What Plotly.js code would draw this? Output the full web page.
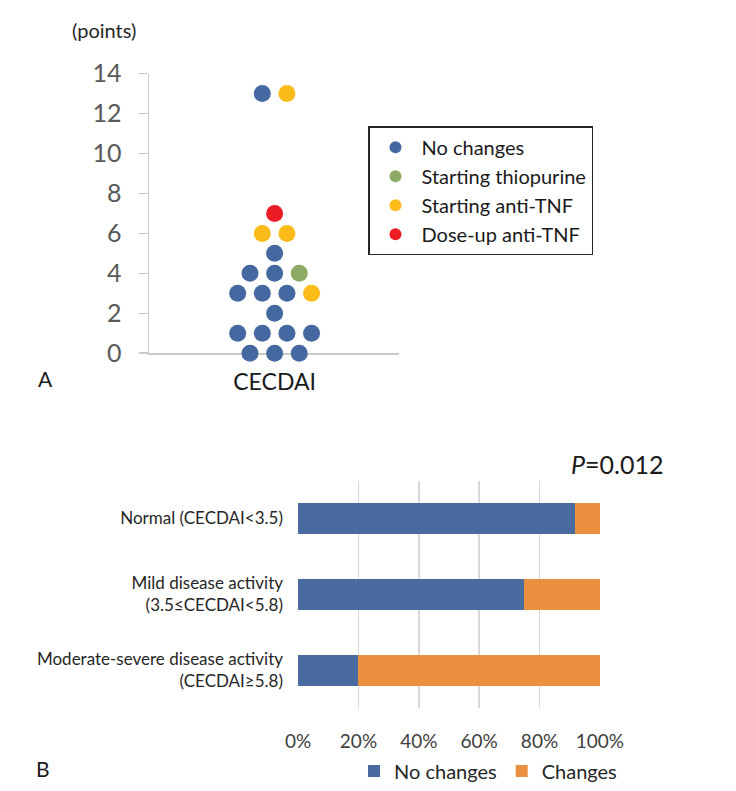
<!DOCTYPE html>
<html>
<head>
<meta charset="utf-8">
<script src="https://cdn.plot.ly/plotly-3.0.1.min.js"></script>
<style>html,body{margin:0;padding:0;background:#fff;}#chart{width:736px;height:791px;}</style>
</head>
<body>
<div id="chart"></div>
<script>
// ---- Panel A: CECDAI scores (dot plot), slot = horizontal dot column ----
const noChangeSlots = [-1, 0, -2, 0, -3, -1, 1, 0, -3, -1, 1, 3, -2, 0, 2];
const noChangeScores = [13, 5, 4, 4, 3, 3, 3, 2, 1, 1, 1, 1, 0, 0, 0];
const thiopurineSlots = [2];
const thiopurineScores = [4];
const antiTnfSlots = [1, -1, 1, 3];
const antiTnfScores = [13, 6, 6, 3];
const doseUpSlots = [0];
const doseUpScores = [7];
const dotSeriesNames = ['No changes', 'Starting thiopurine', 'Starting anti-TNF', 'Dose-up anti-TNF'];
const yTicksA = [0, 2, 4, 6, 8, 10, 12, 14];

// ---- Panel B: treatment change by disease activity (%) ----
const activityGroups = ['Normal (CECDAI<3.5)', 'Mild disease activity<br>(3.5≤CECDAI<5.8)', 'Moderate-severe disease activity<br>(CECDAI≥5.8)'];
const pctNoChanges = [91.7, 75, 20];
const pctChanges = [8.3, 25, 80];
const barSeriesNames = ['No changes', 'Changes'];
const xTicksB = [0, 20, 40, 60, 80, 100];
const xTickTextB = ['0%', '20%', '40%', '60%', '80%', '100%'];

const FONT = "Lato, 'Liberation Sans', Arial, sans-serif";
const W = 736, H = 791;
const px = v => v / W;
const py = v => 1 - v / H;

const dotColors = ['#44689f', '#8caa63', '#fbbc1a', '#ec1c24'];
const dotData = [
  [noChangeSlots, noChangeScores],
  [thiopurineSlots, thiopurineScores],
  [antiTnfSlots, antiTnfScores],
  [doseUpSlots, doseUpScores]
];

const traces = dotData.map((d, i) => ({
  type: 'scatter', mode: 'markers',
  x: d[0], y: d[1],
  name: dotSeriesNames[i],
  xaxis: 'x', yaxis: 'y',
  legend: 'legend',
  cliponaxis: false,
  marker: {size: 17, color: dotColors[i], line: {width: 0}},
  hoverinfo: 'y+name'
}));

traces.push({
  type: 'bar', orientation: 'h',
  y: activityGroups, x: pctNoChanges,
  name: barSeriesNames[0],
  xaxis: 'x2', yaxis: 'y2', legend: 'legend2',
  marker: {color: '#4a6b9f', line: {width: 0}}
});
traces.push({
  type: 'bar', orientation: 'h',
  y: activityGroups, x: pctChanges,
  name: barSeriesNames[1],
  xaxis: 'x2', yaxis: 'y2', legend: 'legend2',
  marker: {color: '#eb8f40', line: {width: 0}}
});

const layout = {
  width: W, height: H,
  margin: {l: 0, r: 0, t: 0, b: 0},
  paper_bgcolor: '#ffffff', plot_bgcolor: '#ffffff',
  font: {family: FONT, color: '#262626'},
  barmode: 'stack', bargap: 0.6,
  showlegend: true,
  xaxis: {
    domain: [px(149), px(399)], anchor: 'y',
    range: [-10.2, 10.1],
    tickvals: [0], ticktext: ['CECDAI'],
    ticks: '', showgrid: false, zeroline: false,
    showline: true, linecolor: '#c9c9c9', linewidth: 1.5,
    layer: 'below traces',
    tickfont: {family: FONT, size: 23, color: '#1a1a1a'},
    ticklabelstandoff: 8,
    fixedrange: true
  },
  yaxis: {
    domain: [py(355), py(74)], anchor: 'x',
    range: [0, 14], tickvals: yTicksA,
    ticks: 'outside', ticklen: 9, tickcolor: '#c9c9c9', tickwidth: 1.5,
    showline: true, linecolor: '#c9c9c9', linewidth: 1.5,
    showgrid: false, zeroline: false,
    layer: 'below traces',
    tickfont: {family: FONT, size: 25, color: '#595959'},
    ticklabelstandoff: 12,
    fixedrange: true
  },
  xaxis2: {
    domain: [px(298), px(600)], anchor: 'y2',
    range: [-0.05, 100.05], tickvals: xTicksB, ticktext: xTickTextB,
    showgrid: true, gridcolor: '#d9d9d9', gridwidth: 1.5,
    showline: false, zeroline: false, ticks: '',
    tickfont: {family: FONT, size: 19, color: '#404040'},
    ticklabelstandoff: 20,
    fixedrange: true
  },
  yaxis2: {
    domain: [py(712), py(483)], anchor: 'x2',
    type: 'category', autorange: 'reversed',
    showgrid: false, showline: false, zeroline: false, ticks: '',
    tickfont: {family: FONT, size: 17, color: '#262626'},
    ticklabelstandoff: 14,
    fixedrange: true
  },
  legend: {
    x: px(368), y: py(127), xanchor: 'left', yanchor: 'top',
    bgcolor: '#ffffff', bordercolor: '#262626', borderwidth: 1.5,
    font: {family: FONT, size: 20, color: '#1a1a1a'},
    itemsizing: 'constant', itemwidth: 42, tracegroupgap: 0
  },
  legend2: {
    orientation: 'h',
    x: px(488), y: py(775), xanchor: 'center', yanchor: 'middle',
    bgcolor: 'rgba(0,0,0,0)', borderwidth: 0,
    font: {family: FONT, size: 20, color: '#262626'},
    itemwidth: 30,
    traceorder: 'normal'
  },
  annotations: [
    {text: '(points)', xref: 'paper', yref: 'paper', x: px(104), y: py(30), xanchor: 'center', yanchor: 'middle', showarrow: false, font: {family: FONT, size: 20, color: '#262626'}},
    {text: 'A', xref: 'paper', yref: 'paper', x: px(45), y: py(380), xanchor: 'center', yanchor: 'middle', showarrow: false, font: {family: FONT, size: 21, color: '#1a1a1a'}},
    {text: 'B', xref: 'paper', yref: 'paper', x: px(43), y: py(772), xanchor: 'center', yanchor: 'middle', showarrow: false, font: {family: FONT, size: 21, color: '#1a1a1a'}},
    {text: '<i>P</i>=0.012', xref: 'paper', yref: 'paper', x: px(617), y: py(466), xanchor: 'center', yanchor: 'middle', showarrow: false, font: {family: FONT, size: 25, color: '#1a1a1a'}}
  ]
};

Plotly.newPlot('chart', traces, layout, {staticPlot: true, displayModeBar: false});
</script>
</body>
</html>
